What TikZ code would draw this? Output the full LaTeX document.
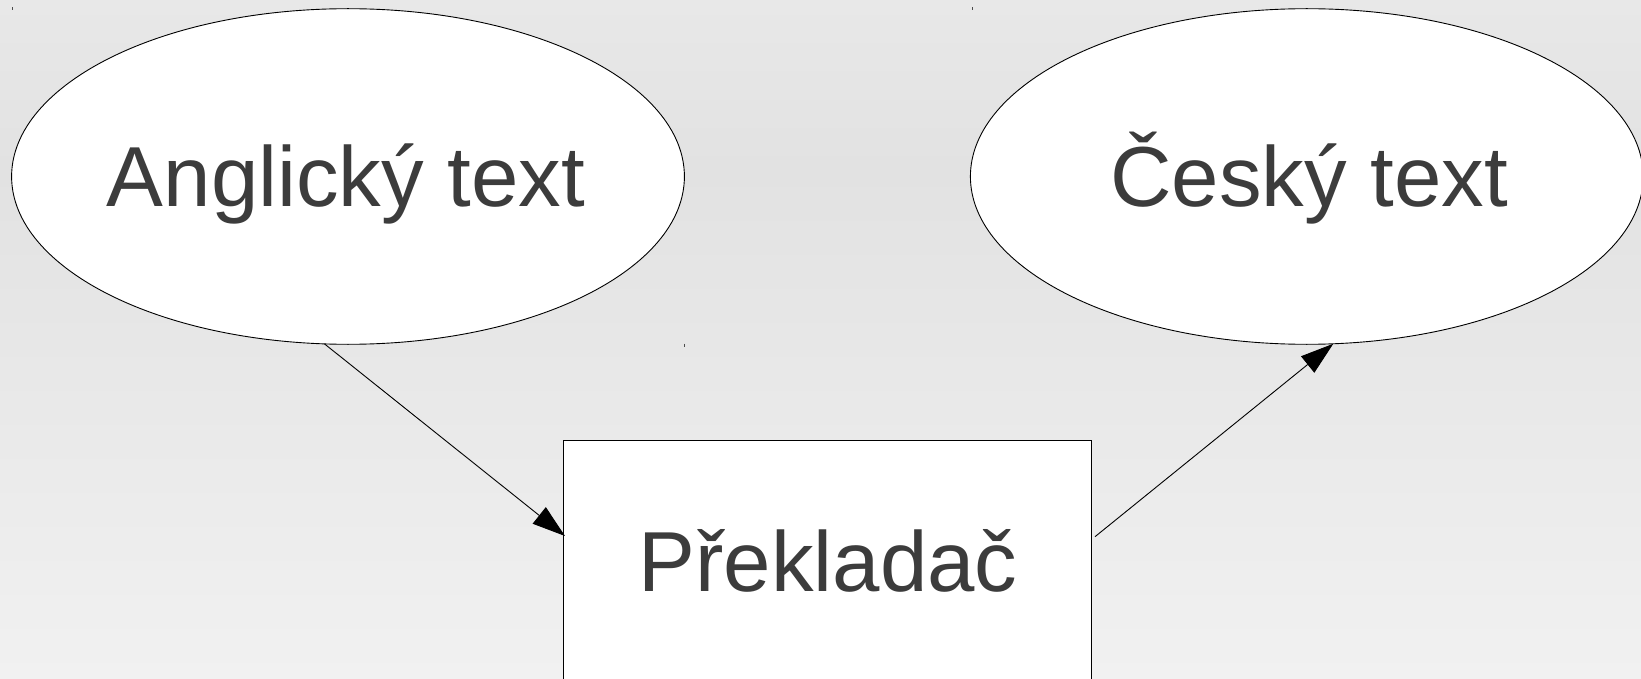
\documentclass[tikz,border=0pt]{standalone}
\usepackage{fontspec}
\setmainfont{Liberation Sans}
\usetikzlibrary{arrows.meta,shapes.geometric,calc}
\definecolor{txt}{HTML}{3C3C3C}
\definecolor{bgtop}{HTML}{E8E8E8}
\definecolor{bgmid}{HTML}{E2E2E2}
\definecolor{bgbot}{HTML}{F1F1F1}
\begin{document}
\begin{tikzpicture}[x=1pt,y=-1pt,
  blob/.style={ellipse, draw=black, line width=0.9pt, fill=white, inner sep=0pt, outer sep=0pt, minimum width=672.8pt, minimum height=335.6pt},
  panel/.style={rectangle, draw=black, line width=0.9pt, fill=white, inner sep=0pt, outer sep=0pt, minimum width=528.7pt, minimum height=253pt},
  lbl/.style={anchor=base, text=txt, inner sep=0pt, font=\fontsize{85.2}{100}\selectfont},
  flow/.style={draw=black, line width=0.9pt, -{Triangle[length=33pt,width=21pt]}},
  tick/.style={draw=black!70, line width=1pt}]
\useasboundingbox (0,0) rectangle (1641,679);
\clip (0,0) rectangle (1641,679);
\shade[top color=bgtop, bottom color=bgmid] (0,0) rectangle (1641,170);
\shade[top color=bgmid, bottom color=bgbot] (0,170) rectangle (1641,679);
\node[blob] (A) at (348,176.5) {};
\node[blob] (C) at (1306.8,176.5) {};
\node[panel] (B) at (827.35,567.2) {};
\node[lbl] (At) at (346,206.5) {Anglický text};
\node[lbl] (Ct) at (1309,206.5) {Český text};
\node[lbl] (Bt) at (828,591) {Překladač};
\coordinate (Bin) at ($(B.north west)+(2,95.3)$);
\coordinate (Bout) at ($(B.north east)+(3.3,96)$);
\draw[flow] (A.262.9) -- (Bin);
\draw[flow] (Bout) -- (C.279.5);
\coordinate (t1) at (12,7.5);
\coordinate (t2) at (972,7.5);
\coordinate (t3) at (684,343.5);
\draw[tick] (t1) -- ++(0,3);
\draw[tick] (t2) -- ++(0,3);
\draw[tick] (t3) -- ++(0,3);
\end{tikzpicture}
\end{document}
